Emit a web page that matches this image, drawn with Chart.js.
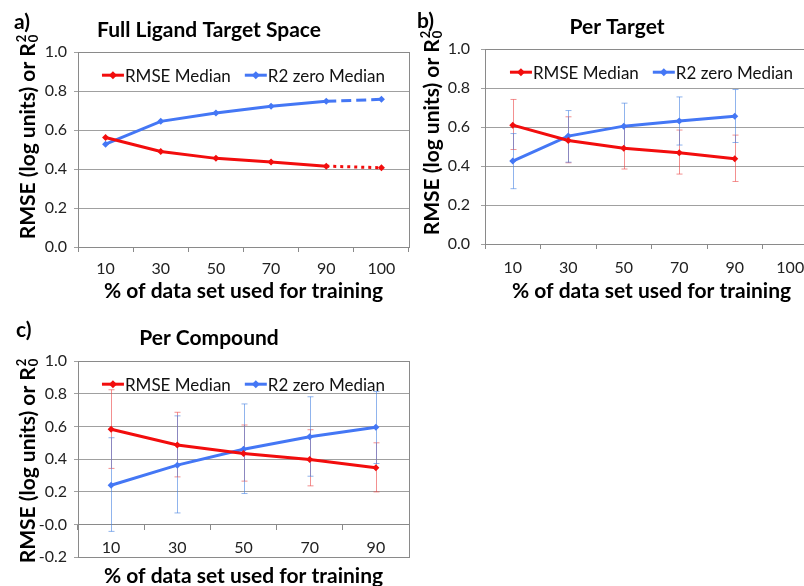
<!DOCTYPE html>
<html>
<head>
<meta charset="utf-8">
<script src="https://cdn.jsdelivr.net/npm/chart.js@4/dist/chart.umd.min.js"></script>
<style>
  html, body { margin: 0; padding: 0; background: #fff; width: 804px; height: 586px; overflow: hidden; position: relative; }
  canvas { position: absolute; }
</style>
</head>
<body>
<canvas id="chartA" width="420" height="305" style="left:0;top:0"></canvas>
<canvas id="chartB" width="440" height="305" style="left:400px;top:0"></canvas>
<canvas id="chartC" width="420" height="300" style="left:0;top:300px"></canvas>
<script>
// a) Full Ligand Target Space
const fullCategories = ['10', '30', '50', '70', '90', '100'];
const fullRmse = [0.562, 0.49, 0.455, 0.436, 0.415, 0.407];
const fullR2 = [0.528, 0.645, 0.688, 0.722, 0.748, 0.758];

// b) Per Target
const targetCategories = ['10', '30', '50', '70', '90', '100'];
const targetRmse = [0.61, 0.531, 0.492, 0.468, 0.438, null];
const targetRmseLow = [0.485, 0.417, 0.385, 0.359, 0.321, null];
const targetRmseHigh = [0.742, 0.653, 0.6, 0.585, 0.559, null];
const targetR2 = [0.426, 0.554, 0.605, 0.631, 0.656, null];
const targetR2Low = [0.284, 0.42, 0.49, 0.508, 0.521, null];
const targetR2High = [0.567, 0.685, 0.723, 0.755, 0.793, null];

// c) Per Compound
const compoundCategories = ['10', '30', '50', '70', '90'];
const compoundRmse = [0.583, 0.486, 0.435, 0.398, 0.347];
const compoundRmseLow = [0.343, 0.291, 0.265, 0.236, 0.199];
const compoundRmseHigh = [0.825, 0.687, 0.609, 0.58, 0.5];
const compoundR2 = [0.24, 0.363, 0.46, 0.537, 0.595];
const compoundR2Low = [-0.043, 0.07, 0.189, 0.295, 0.373];
const compoundR2High = [0.531, 0.665, 0.738, 0.782, 0.814];

const RED = '#f20d0d';
const BLUE = '#4477f5';
const RED_ERR = 'rgba(235, 70, 70, 0.6)';
const BLUE_ERR = 'rgba(70, 130, 225, 0.6)';
const FONT = 'Lato, "Open Sans", sans-serif';

Chart.defaults.font.family = FONT;
Chart.defaults.color = '#222';

// box round the plot area, like excel
const plotBorder = {
  id: 'plotBorder',
  afterDraw(chart) {
    const { ctx, chartArea: a } = chart;
    ctx.save();
    ctx.strokeStyle = '#8a8a8a';
    ctx.lineWidth = 1;
    ctx.strokeRect(Math.round(a.left) + 0.5, Math.round(a.top) + 0.5, Math.round(a.right - a.left), Math.round(a.bottom - a.top));
    ctx.restore();
  }
};

// vertical error bars from low/high arrays
const errorBars = {
  id: 'errorBars',
  beforeDatasetsDraw(chart, args, opts) {
    const bars = opts.bars || [];
    const { ctx, scales: { x, y } } = chart;
    ctx.save();
    ctx.lineWidth = 1;
    bars.forEach(b => {
      ctx.strokeStyle = b.color;
      b.low.forEach((lo, i) => {
        const hi = b.high[i];
        if (lo == null || hi == null) return;
        const px = Math.round(x.getPixelForValue(i)) + 0.5;
        const y1 = y.getPixelForValue(lo);
        const y2 = y.getPixelForValue(hi);
        ctx.beginPath();
        ctx.moveTo(px, y1); ctx.lineTo(px, y2);
        ctx.moveTo(px - 3, y1); ctx.lineTo(px + 3, y1);
        ctx.moveTo(px - 3, y2); ctx.lineTo(px + 3, y2);
        ctx.stroke();
      });
    });
    ctx.restore();
  }
};

// legend sits inside the plot area
const innerLegend = {
  id: 'innerLegend',
  afterDraw(chart, args, opts) {
    const { ctx, chartArea } = chart;
    const items = chart.data.datasets.map(ds => ({ text: ds.label, color: ds.borderColor }));
    ctx.save();
    ctx.font = '17px ' + FONT;
    ctx.textBaseline = 'middle';
    const lineW = 22, gap = 14;
    const widths = items.map(it => lineW + 1 + ctx.measureText(it.text).width);
    const total = widths.reduce((s, w) => s + w, 0) + gap * (items.length - 1);
    let x = (chartArea.left + chartArea.right) / 2 - total / 2;
    const y = chartArea.top + (opts.offset || 23);
    items.forEach((it, i) => {
      ctx.strokeStyle = it.color;
      ctx.fillStyle = it.color;
      ctx.lineWidth = 3;
      ctx.beginPath();
      ctx.moveTo(x, y); ctx.lineTo(x + lineW, y);
      ctx.stroke();
      const cx = x + lineW / 2;
      ctx.beginPath();
      ctx.moveTo(cx, y - 4); ctx.lineTo(cx + 4, y); ctx.lineTo(cx, y + 4); ctx.lineTo(cx - 4, y);
      ctx.closePath();
      ctx.fill();
      ctx.fillStyle = '#111';
      ctx.fillText(it.text, x + lineW + 1, y + 1);
      x += widths[i] + gap;
    });
    ctx.restore();
  }
};

// panel letter and the rotated y title with stacked R²₀
const panelText = {
  id: 'panelText',
  afterDraw(chart, args, opts) {
    const { ctx } = chart;
    ctx.save();
    ctx.fillStyle = '#000';
    ctx.textBaseline = 'middle';
    ctx.font = 'bold 21px ' + FONT;
    ctx.fillText(opts.tag, opts.tagX, opts.tagY);

    const main = 'RMSE (log units) or R';
    const big = 'bold 21px ' + FONT;
    const small = 'bold 13px ' + FONT;
    ctx.font = big;
    const wMain = ctx.measureText(main).width;
    ctx.font = small;
    const wSmall = ctx.measureText('2').width;
    const total = wMain + wSmall + 1;
    ctx.translate(opts.titleX, opts.titleY);
    ctx.rotate(-Math.PI / 2);
    ctx.textBaseline = 'alphabetic';
    const base = 7;
    ctx.font = big;
    ctx.fillText(main, -total / 2, base);
    ctx.font = small;
    ctx.fillText('2', -total / 2 + wMain + 1, base - 9);
    ctx.fillText('0', -total / 2 + wMain + 1, base + 3);
    ctx.restore();
  }
};

function lineDataset(label, data, color, extra) {
  return Object.assign({
    label: label,
    data: data,
    borderColor: color,
    backgroundColor: color,
    borderWidth: 3,
    pointStyle: 'rectRot',
    pointRadius: 3.5,
    pointBorderWidth: 0,
    tension: 0
  }, extra || {});
}

function makeOptions(cfg) {
  return {
    responsive: false,
    animation: false,
    layout: { padding: cfg.padding },
    plugins: {
      legend: { display: false },
      tooltip: { enabled: false },
      title: {
        display: true,
        text: cfg.title,
        color: '#000',
        font: { size: 21, weight: 'bold' },
        padding: cfg.titlePadding
      },
      errorBars: { bars: cfg.bars || [] },
      panelText: cfg.text
    },
    scales: {
      x: {
        type: 'category',
        position: cfg.xPosition || 'bottom',
        offset: true,
        grid: { offset: true, drawOnChartArea: false, tickLength: 5, color: '#8a8a8a' },
        border: { color: '#8a8a8a' },
        ticks: { font: { size: 16 }, padding: cfg.xTickPadding, maxRotation: 0, color: '#222' },
        title: {
          display: true,
          text: '% of data set used for training',
          color: '#000',
          font: { size: 21, weight: 'bold' },
          padding: { top: 0, bottom: 1 }
        },
        afterFit: s => { s.height = cfg.xHeight; }
      },
      y: {
        min: cfg.yMin,
        max: 1.0,
        ticks: {
          stepSize: 0.2,
          font: { size: 16 },
          padding: cfg.yTickPadding,
          color: '#222',
          callback: v => Number(v).toFixed(1)
        },
        grid: { color: '#a0a0a0', tickLength: 4 },
        border: { color: '#8a8a8a' },
        title: { display: false },
        afterFit: s => { s.width = cfg.yWidth; }
      }
    }
  };
}

const plugins = [plotBorder, errorBars, innerLegend, panelText];

new Chart(document.getElementById('chartA'), {
  type: 'line',
  data: {
    labels: fullCategories,
    datasets: [
      lineDataset('RMSE Median', fullRmse, RED, {
        segment: { borderDash: c => c.p1DataIndex === 5 ? [3, 4] : undefined }
      }),
      lineDataset('R2 zero Median', fullR2, BLUE, {
        segment: { borderDash: c => c.p1DataIndex === 5 ? [10, 5] : undefined }
      })
    ]
  },
  options: makeOptions({
    title: 'Full Ligand Target Space',
    titlePadding: { top: 18, bottom: 9 },
    padding: { left: 9, right: 11, top: 0, bottom: 0 },
    xHeight: 58, xTickPadding: 7,
    yMin: 0, yWidth: 69, yTickPadding: 7,
    text: { tag: 'a)', tagX: 14, tagY: 22, titleX: 28, titleY: 137 }
  }),
  plugins: plugins
});

new Chart(document.getElementById('chartB'), {
  type: 'line',
  data: {
    labels: targetCategories,
    datasets: [
      lineDataset('RMSE Median', targetRmse, RED),
      lineDataset('R2 zero Median', targetR2, BLUE)
    ]
  },
  options: makeOptions({
    title: 'Per Target',
    titlePadding: { top: 15, bottom: 9 },
    padding: { left: 16, right: 22, top: 0, bottom: 0 },
    xHeight: 61, xTickPadding: 9,
    yMin: 0, yWidth: 69, yTickPadding: 11,
    text: { tag: 'b)', tagX: 17, tagY: 21, titleX: 32, titleY: 133 },
    bars: [
      { color: RED_ERR, low: targetRmseLow, high: targetRmseHigh },
      { color: BLUE_ERR, low: targetR2Low, high: targetR2High }
    ]
  }),
  plugins: plugins
});

new Chart(document.getElementById('chartC'), {
  type: 'line',
  data: {
    labels: compoundCategories,
    datasets: [
      lineDataset('RMSE Median', compoundRmse, RED),
      lineDataset('R2 zero Median', compoundR2, BLUE)
    ]
  },
  options: makeOptions({
    title: 'Per Compound',
    titlePadding: { top: 26, bottom: 10 },
    padding: { left: 9, right: 11, top: 0, bottom: 43 },
    xPosition: { y: 0 },
    xHeight: 65, xTickPadding: 9,
    yMin: -0.2, yWidth: 69, yTickPadding: 7,
    text: { tag: 'c)', tagX: 16, tagY: 30, titleX: 28, titleY: 161 },
    bars: [
      { color: RED_ERR, low: compoundRmseLow, high: compoundRmseHigh },
      { color: BLUE_ERR, low: compoundR2Low, high: compoundR2High }
    ]
  }),
  plugins: plugins
});
</script>
</body>
</html>
